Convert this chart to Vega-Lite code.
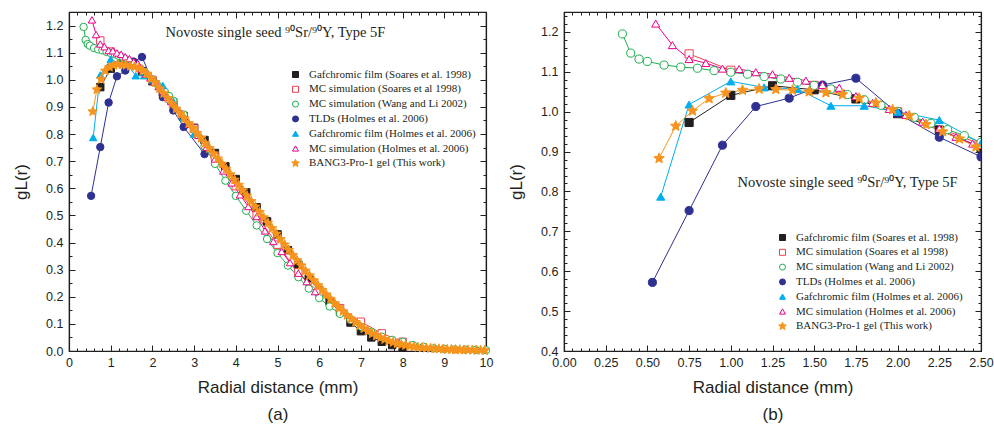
{
  "$schema": "https://vega.github.io/schema/vega-lite/v6.json",
  "padding": {"left": 12, "top": 10, "right": 5, "bottom": 2},
  "bounds": "flush",
  "spacing": 78,
  "config": {
    "font": "Liberation Sans",
    "view": {"stroke": "#231f20", "strokeWidth": 1.2},
    "axis": {"grid": false, "domainColor": "#231f20", "domainWidth": 1.2, "tickColor": "#231f20", "tickWidth": 1, "labelColor": "#231f20", "labelFont": "Liberation Sans", "labelFontSize": 12.5, "titleFont": "Liberation Sans", "titleFontSize": 17, "titleFontWeight": "normal", "titleColor": "#231f20"},
    "legend": {"labelFont": "Liberation Serif", "labelFontSize": 11, "labelColor": "#231f20", "labelLimit": 400, "padding": 0, "rowPadding": 2.8, "symbolStrokeWidth": 1, "symbolSize": 36}
  },
  "resolve": {
    "scale": {"color": "independent", "stroke": "independent", "fill": "independent", "shape": "independent"},
    "legend": {"stroke": "independent", "fill": "independent", "shape": "independent"}
  },
  "data": {"values": [
    {"s": "Gafchromic film (Soares et al. 1998)", "r": 0.75, "g": 0.973},
    {"s": "Gafchromic film (Soares et al. 1998)", "r": 1.0, "g": 1.041},
    {"s": "Gafchromic film (Soares et al. 1998)", "r": 1.25, "g": 1.065},
    {"s": "Gafchromic film (Soares et al. 1998)", "r": 1.5, "g": 1.055},
    {"s": "Gafchromic film (Soares et al. 1998)", "r": 1.75, "g": 1.032},
    {"s": "Gafchromic film (Soares et al. 1998)", "r": 2.0, "g": 0.995},
    {"s": "Gafchromic film (Soares et al. 1998)", "r": 2.25, "g": 0.954},
    {"s": "Gafchromic film (Soares et al. 1998)", "r": 2.5, "g": 0.91},
    {"s": "Gafchromic film (Soares et al. 1998)", "r": 2.75, "g": 0.866},
    {"s": "Gafchromic film (Soares et al. 1998)", "r": 3.0, "g": 0.823},
    {"s": "Gafchromic film (Soares et al. 1998)", "r": 3.25, "g": 0.778},
    {"s": "Gafchromic film (Soares et al. 1998)", "r": 3.5, "g": 0.73},
    {"s": "Gafchromic film (Soares et al. 1998)", "r": 3.75, "g": 0.681},
    {"s": "Gafchromic film (Soares et al. 1998)", "r": 4.0, "g": 0.634},
    {"s": "Gafchromic film (Soares et al. 1998)", "r": 4.25, "g": 0.585},
    {"s": "Gafchromic film (Soares et al. 1998)", "r": 4.5, "g": 0.53},
    {"s": "Gafchromic film (Soares et al. 1998)", "r": 4.75, "g": 0.478},
    {"s": "Gafchromic film (Soares et al. 1998)", "r": 5.0, "g": 0.43},
    {"s": "Gafchromic film (Soares et al. 1998)", "r": 5.25, "g": 0.372},
    {"s": "Gafchromic film (Soares et al. 1998)", "r": 5.5, "g": 0.318},
    {"s": "Gafchromic film (Soares et al. 1998)", "r": 5.75, "g": 0.268},
    {"s": "Gafchromic film (Soares et al. 1998)", "r": 6.0, "g": 0.224},
    {"s": "Gafchromic film (Soares et al. 1998)", "r": 6.25, "g": 0.182},
    {"s": "Gafchromic film (Soares et al. 1998)", "r": 6.5, "g": 0.145},
    {"s": "Gafchromic film (Soares et al. 1998)", "r": 6.75, "g": 0.105},
    {"s": "Gafchromic film (Soares et al. 1998)", "r": 7.0, "g": 0.073},
    {"s": "Gafchromic film (Soares et al. 1998)", "r": 7.25, "g": 0.05},
    {"s": "Gafchromic film (Soares et al. 1998)", "r": 7.5, "g": 0.034},
    {"s": "Gafchromic film (Soares et al. 1998)", "r": 7.75, "g": 0.022},
    {"s": "Gafchromic film (Soares et al. 1998)", "r": 8.0, "g": 0.013},
    {"s": "MC simulation (Soares et al 1998)", "r": 0.75, "g": 1.145},
    {"s": "MC simulation (Soares et al 1998)", "r": 1.0, "g": 1.104},
    {"s": "MC simulation (Soares et al 1998)", "r": 1.5, "g": 1.066},
    {"s": "MC simulation (Soares et al 1998)", "r": 2.0, "g": 1.0},
    {"s": "MC simulation (Soares et al 1998)", "r": 2.5, "g": 0.918},
    {"s": "MC simulation (Soares et al 1998)", "r": 3.0, "g": 0.82},
    {"s": "MC simulation (Soares et al 1998)", "r": 3.5, "g": 0.715},
    {"s": "MC simulation (Soares et al 1998)", "r": 4.0, "g": 0.608},
    {"s": "MC simulation (Soares et al 1998)", "r": 4.5, "g": 0.5},
    {"s": "MC simulation (Soares et al 1998)", "r": 5.0, "g": 0.392},
    {"s": "MC simulation (Soares et al 1998)", "r": 5.5, "g": 0.29},
    {"s": "MC simulation (Soares et al 1998)", "r": 6.0, "g": 0.215},
    {"s": "MC simulation (Soares et al 1998)", "r": 6.5, "g": 0.158},
    {"s": "MC simulation (Soares et al 1998)", "r": 7.0, "g": 0.108},
    {"s": "MC simulation (Soares et al 1998)", "r": 7.5, "g": 0.065},
    {"s": "MC simulation (Soares et al 1998)", "r": 8.0, "g": 0.034},
    {"s": "MC simulation (Wang and Li 2002)", "r": 0.35, "g": 1.195},
    {"s": "MC simulation (Wang and Li 2002)", "r": 0.4, "g": 1.147},
    {"s": "MC simulation (Wang and Li 2002)", "r": 0.45, "g": 1.132},
    {"s": "MC simulation (Wang and Li 2002)", "r": 0.5, "g": 1.126},
    {"s": "MC simulation (Wang and Li 2002)", "r": 0.6, "g": 1.117},
    {"s": "MC simulation (Wang and Li 2002)", "r": 0.7, "g": 1.112},
    {"s": "MC simulation (Wang and Li 2002)", "r": 0.8, "g": 1.109},
    {"s": "MC simulation (Wang and Li 2002)", "r": 0.9, "g": 1.103},
    {"s": "MC simulation (Wang and Li 2002)", "r": 1.0, "g": 1.099},
    {"s": "MC simulation (Wang and Li 2002)", "r": 1.1, "g": 1.094},
    {"s": "MC simulation (Wang and Li 2002)", "r": 1.2, "g": 1.088},
    {"s": "MC simulation (Wang and Li 2002)", "r": 1.3, "g": 1.082},
    {"s": "MC simulation (Wang and Li 2002)", "r": 1.4, "g": 1.074},
    {"s": "MC simulation (Wang and Li 2002)", "r": 1.5, "g": 1.066},
    {"s": "MC simulation (Wang and Li 2002)", "r": 1.6, "g": 1.057},
    {"s": "MC simulation (Wang and Li 2002)", "r": 1.7, "g": 1.043},
    {"s": "MC simulation (Wang and Li 2002)", "r": 1.8, "g": 1.03},
    {"s": "MC simulation (Wang and Li 2002)", "r": 1.9, "g": 1.016},
    {"s": "MC simulation (Wang and Li 2002)", "r": 2.0, "g": 1.001},
    {"s": "MC simulation (Wang and Li 2002)", "r": 2.1, "g": 0.986},
    {"s": "MC simulation (Wang and Li 2002)", "r": 2.2, "g": 0.971},
    {"s": "MC simulation (Wang and Li 2002)", "r": 2.3, "g": 0.955},
    {"s": "MC simulation (Wang and Li 2002)", "r": 2.4, "g": 0.94},
    {"s": "MC simulation (Wang and Li 2002)", "r": 2.5, "g": 0.923},
    {"s": "MC simulation (Wang and Li 2002)", "r": 2.75, "g": 0.872},
    {"s": "MC simulation (Wang and Li 2002)", "r": 3.0, "g": 0.815},
    {"s": "MC simulation (Wang and Li 2002)", "r": 3.25, "g": 0.755},
    {"s": "MC simulation (Wang and Li 2002)", "r": 3.5, "g": 0.69},
    {"s": "MC simulation (Wang and Li 2002)", "r": 3.75, "g": 0.628},
    {"s": "MC simulation (Wang and Li 2002)", "r": 4.0, "g": 0.572},
    {"s": "MC simulation (Wang and Li 2002)", "r": 4.25, "g": 0.517},
    {"s": "MC simulation (Wang and Li 2002)", "r": 4.5, "g": 0.463},
    {"s": "MC simulation (Wang and Li 2002)", "r": 4.75, "g": 0.413},
    {"s": "MC simulation (Wang and Li 2002)", "r": 5.0, "g": 0.361},
    {"s": "MC simulation (Wang and Li 2002)", "r": 5.25, "g": 0.315},
    {"s": "MC simulation (Wang and Li 2002)", "r": 5.5, "g": 0.272},
    {"s": "MC simulation (Wang and Li 2002)", "r": 5.75, "g": 0.23},
    {"s": "MC simulation (Wang and Li 2002)", "r": 6.0, "g": 0.195},
    {"s": "MC simulation (Wang and Li 2002)", "r": 6.25, "g": 0.164},
    {"s": "MC simulation (Wang and Li 2002)", "r": 6.5, "g": 0.137},
    {"s": "MC simulation (Wang and Li 2002)", "r": 6.75, "g": 0.115},
    {"s": "MC simulation (Wang and Li 2002)", "r": 7.0, "g": 0.09},
    {"s": "MC simulation (Wang and Li 2002)", "r": 7.25, "g": 0.071},
    {"s": "MC simulation (Wang and Li 2002)", "r": 7.5, "g": 0.053},
    {"s": "MC simulation (Wang and Li 2002)", "r": 7.75, "g": 0.041},
    {"s": "MC simulation (Wang and Li 2002)", "r": 8.0, "g": 0.034},
    {"s": "MC simulation (Wang and Li 2002)", "r": 8.25, "g": 0.022},
    {"s": "MC simulation (Wang and Li 2002)", "r": 8.5, "g": 0.016},
    {"s": "MC simulation (Wang and Li 2002)", "r": 8.75, "g": 0.01},
    {"s": "MC simulation (Wang and Li 2002)", "r": 9.0, "g": 0.008},
    {"s": "MC simulation (Wang and Li 2002)", "r": 9.25, "g": 0.006},
    {"s": "MC simulation (Wang and Li 2002)", "r": 9.5, "g": 0.005},
    {"s": "MC simulation (Wang and Li 2002)", "r": 9.75, "g": 0.004},
    {"s": "MC simulation (Wang and Li 2002)", "r": 10.0, "g": 0.003},
    {"s": "TLDs (Holmes et al. 2006)", "r": 0.53, "g": 0.572},
    {"s": "TLDs (Holmes et al. 2006)", "r": 0.75, "g": 0.752},
    {"s": "TLDs (Holmes et al. 2006)", "r": 0.95, "g": 0.916},
    {"s": "TLDs (Holmes et al. 2006)", "r": 1.15, "g": 1.013},
    {"s": "TLDs (Holmes et al. 2006)", "r": 1.35, "g": 1.034},
    {"s": "TLDs (Holmes et al. 2006)", "r": 1.55, "g": 1.067},
    {"s": "TLDs (Holmes et al. 2006)", "r": 1.75, "g": 1.084},
    {"s": "TLDs (Holmes et al. 2006)", "r": 2.0, "g": 0.996},
    {"s": "TLDs (Holmes et al. 2006)", "r": 2.25, "g": 0.936},
    {"s": "TLDs (Holmes et al. 2006)", "r": 2.5, "g": 0.887},
    {"s": "TLDs (Holmes et al. 2006)", "r": 2.75, "g": 0.826},
    {"s": "TLDs (Holmes et al. 2006)", "r": 3.25, "g": 0.726},
    {"s": "Gafchromic film (Holmes et al. 2006)", "r": 0.58, "g": 0.787},
    {"s": "Gafchromic film (Holmes et al. 2006)", "r": 0.75, "g": 1.018},
    {"s": "Gafchromic film (Holmes et al. 2006)", "r": 1.0, "g": 1.076},
    {"s": "Gafchromic film (Holmes et al. 2006)", "r": 1.2, "g": 1.061},
    {"s": "Gafchromic film (Holmes et al. 2006)", "r": 1.4, "g": 1.057},
    {"s": "Gafchromic film (Holmes et al. 2006)", "r": 1.6, "g": 1.015},
    {"s": "Gafchromic film (Holmes et al. 2006)", "r": 1.8, "g": 1.015},
    {"s": "Gafchromic film (Holmes et al. 2006)", "r": 2.0, "g": 1.0},
    {"s": "Gafchromic film (Holmes et al. 2006)", "r": 2.25, "g": 0.979},
    {"s": "Gafchromic film (Holmes et al. 2006)", "r": 2.5, "g": 0.921},
    {"s": "Gafchromic film (Holmes et al. 2006)", "r": 2.75, "g": 0.86},
    {"s": "Gafchromic film (Holmes et al. 2006)", "r": 3.0, "g": 0.8},
    {"s": "MC simulation (Holmes et al. 2006)", "r": 0.55, "g": 1.221},
    {"s": "MC simulation (Holmes et al. 2006)", "r": 0.65, "g": 1.167},
    {"s": "MC simulation (Holmes et al. 2006)", "r": 0.75, "g": 1.132},
    {"s": "MC simulation (Holmes et al. 2006)", "r": 0.85, "g": 1.122},
    {"s": "MC simulation (Holmes et al. 2006)", "r": 0.95, "g": 1.108},
    {"s": "MC simulation (Holmes et al. 2006)", "r": 1.05, "g": 1.107},
    {"s": "MC simulation (Holmes et al. 2006)", "r": 1.15, "g": 1.099},
    {"s": "MC simulation (Holmes et al. 2006)", "r": 1.25, "g": 1.094},
    {"s": "MC simulation (Holmes et al. 2006)", "r": 1.35, "g": 1.085},
    {"s": "MC simulation (Holmes et al. 2006)", "r": 1.45, "g": 1.078},
    {"s": "MC simulation (Holmes et al. 2006)", "r": 1.55, "g": 1.067},
    {"s": "MC simulation (Holmes et al. 2006)", "r": 1.65, "g": 1.06},
    {"s": "MC simulation (Holmes et al. 2006)", "r": 1.75, "g": 1.039},
    {"s": "MC simulation (Holmes et al. 2006)", "r": 1.85, "g": 1.022},
    {"s": "MC simulation (Holmes et al. 2006)", "r": 1.95, "g": 1.007},
    {"s": "MC simulation (Holmes et al. 2006)", "r": 2.05, "g": 0.992},
    {"s": "MC simulation (Holmes et al. 2006)", "r": 2.15, "g": 0.975},
    {"s": "MC simulation (Holmes et al. 2006)", "r": 2.25, "g": 0.958},
    {"s": "MC simulation (Holmes et al. 2006)", "r": 2.35, "g": 0.937},
    {"s": "MC simulation (Holmes et al. 2006)", "r": 2.45, "g": 0.92},
    {"s": "MC simulation (Holmes et al. 2006)", "r": 2.7, "g": 0.876},
    {"s": "MC simulation (Holmes et al. 2006)", "r": 2.9, "g": 0.836},
    {"s": "MC simulation (Holmes et al. 2006)", "r": 3.1, "g": 0.795},
    {"s": "MC simulation (Holmes et al. 2006)", "r": 3.3, "g": 0.752},
    {"s": "MC simulation (Holmes et al. 2006)", "r": 3.5, "g": 0.708},
    {"s": "MC simulation (Holmes et al. 2006)", "r": 3.7, "g": 0.664},
    {"s": "MC simulation (Holmes et al. 2006)", "r": 3.9, "g": 0.62},
    {"s": "MC simulation (Holmes et al. 2006)", "r": 4.1, "g": 0.576},
    {"s": "MC simulation (Holmes et al. 2006)", "r": 4.3, "g": 0.533},
    {"s": "MC simulation (Holmes et al. 2006)", "r": 4.5, "g": 0.496},
    {"s": "MC simulation (Holmes et al. 2006)", "r": 4.7, "g": 0.443},
    {"s": "MC simulation (Holmes et al. 2006)", "r": 4.9, "g": 0.404},
    {"s": "MC simulation (Holmes et al. 2006)", "r": 5.1, "g": 0.367},
    {"s": "MC simulation (Holmes et al. 2006)", "r": 5.3, "g": 0.326},
    {"s": "MC simulation (Holmes et al. 2006)", "r": 5.5, "g": 0.287},
    {"s": "MC simulation (Holmes et al. 2006)", "r": 5.7, "g": 0.256},
    {"s": "MC simulation (Holmes et al. 2006)", "r": 5.9, "g": 0.219},
    {"s": "BANG3-Pro-1 gel (This work)", "r": 0.57, "g": 0.883},
    {"s": "BANG3-Pro-1 gel (This work)", "r": 0.67, "g": 0.964},
    {"s": "BANG3-Pro-1 gel (This work)", "r": 0.77, "g": 1.002},
    {"s": "BANG3-Pro-1 gel (This work)", "r": 0.87, "g": 1.033},
    {"s": "BANG3-Pro-1 gel (This work)", "r": 0.97, "g": 1.047},
    {"s": "BANG3-Pro-1 gel (This work)", "r": 1.07, "g": 1.054},
    {"s": "BANG3-Pro-1 gel (This work)", "r": 1.17, "g": 1.057},
    {"s": "BANG3-Pro-1 gel (This work)", "r": 1.27, "g": 1.056},
    {"s": "BANG3-Pro-1 gel (This work)", "r": 1.37, "g": 1.054},
    {"s": "BANG3-Pro-1 gel (This work)", "r": 1.47, "g": 1.05},
    {"s": "BANG3-Pro-1 gel (This work)", "r": 1.57, "g": 1.048},
    {"s": "BANG3-Pro-1 gel (This work)", "r": 1.67, "g": 1.043},
    {"s": "BANG3-Pro-1 gel (This work)", "r": 1.77, "g": 1.034},
    {"s": "BANG3-Pro-1 gel (This work)", "r": 1.87, "g": 1.022},
    {"s": "BANG3-Pro-1 gel (This work)", "r": 1.97, "g": 1.005},
    {"s": "BANG3-Pro-1 gel (This work)", "r": 2.07, "g": 0.99},
    {"s": "BANG3-Pro-1 gel (This work)", "r": 2.17, "g": 0.968},
    {"s": "BANG3-Pro-1 gel (This work)", "r": 2.27, "g": 0.95},
    {"s": "BANG3-Pro-1 gel (This work)", "r": 2.37, "g": 0.932},
    {"s": "BANG3-Pro-1 gel (This work)", "r": 2.47, "g": 0.912},
    {"s": "BANG3-Pro-1 gel (This work)", "r": 2.57, "g": 0.893},
    {"s": "BANG3-Pro-1 gel (This work)", "r": 2.67, "g": 0.875},
    {"s": "BANG3-Pro-1 gel (This work)", "r": 2.77, "g": 0.857},
    {"s": "BANG3-Pro-1 gel (This work)", "r": 2.87, "g": 0.839},
    {"s": "BANG3-Pro-1 gel (This work)", "r": 2.97, "g": 0.821},
    {"s": "BANG3-Pro-1 gel (This work)", "r": 3.07, "g": 0.803},
    {"s": "BANG3-Pro-1 gel (This work)", "r": 3.17, "g": 0.785},
    {"s": "BANG3-Pro-1 gel (This work)", "r": 3.27, "g": 0.766},
    {"s": "BANG3-Pro-1 gel (This work)", "r": 3.37, "g": 0.747},
    {"s": "BANG3-Pro-1 gel (This work)", "r": 3.47, "g": 0.728},
    {"s": "BANG3-Pro-1 gel (This work)", "r": 3.57, "g": 0.709},
    {"s": "BANG3-Pro-1 gel (This work)", "r": 3.67, "g": 0.69},
    {"s": "BANG3-Pro-1 gel (This work)", "r": 3.77, "g": 0.671},
    {"s": "BANG3-Pro-1 gel (This work)", "r": 3.87, "g": 0.651},
    {"s": "BANG3-Pro-1 gel (This work)", "r": 3.97, "g": 0.631},
    {"s": "BANG3-Pro-1 gel (This work)", "r": 4.07, "g": 0.612},
    {"s": "BANG3-Pro-1 gel (This work)", "r": 4.17, "g": 0.592},
    {"s": "BANG3-Pro-1 gel (This work)", "r": 4.27, "g": 0.572},
    {"s": "BANG3-Pro-1 gel (This work)", "r": 4.37, "g": 0.552},
    {"s": "BANG3-Pro-1 gel (This work)", "r": 4.47, "g": 0.532},
    {"s": "BANG3-Pro-1 gel (This work)", "r": 4.57, "g": 0.512},
    {"s": "BANG3-Pro-1 gel (This work)", "r": 4.67, "g": 0.492},
    {"s": "BANG3-Pro-1 gel (This work)", "r": 4.77, "g": 0.472},
    {"s": "BANG3-Pro-1 gel (This work)", "r": 4.87, "g": 0.452},
    {"s": "BANG3-Pro-1 gel (This work)", "r": 4.97, "g": 0.432},
    {"s": "BANG3-Pro-1 gel (This work)", "r": 5.07, "g": 0.412},
    {"s": "BANG3-Pro-1 gel (This work)", "r": 5.17, "g": 0.392},
    {"s": "BANG3-Pro-1 gel (This work)", "r": 5.27, "g": 0.372},
    {"s": "BANG3-Pro-1 gel (This work)", "r": 5.37, "g": 0.353},
    {"s": "BANG3-Pro-1 gel (This work)", "r": 5.47, "g": 0.334},
    {"s": "BANG3-Pro-1 gel (This work)", "r": 5.57, "g": 0.315},
    {"s": "BANG3-Pro-1 gel (This work)", "r": 5.67, "g": 0.296},
    {"s": "BANG3-Pro-1 gel (This work)", "r": 5.77, "g": 0.278},
    {"s": "BANG3-Pro-1 gel (This work)", "r": 5.87, "g": 0.26},
    {"s": "BANG3-Pro-1 gel (This work)", "r": 5.97, "g": 0.242},
    {"s": "BANG3-Pro-1 gel (This work)", "r": 6.07, "g": 0.225},
    {"s": "BANG3-Pro-1 gel (This work)", "r": 6.17, "g": 0.208},
    {"s": "BANG3-Pro-1 gel (This work)", "r": 6.27, "g": 0.192},
    {"s": "BANG3-Pro-1 gel (This work)", "r": 6.37, "g": 0.176},
    {"s": "BANG3-Pro-1 gel (This work)", "r": 6.47, "g": 0.161},
    {"s": "BANG3-Pro-1 gel (This work)", "r": 6.57, "g": 0.146},
    {"s": "BANG3-Pro-1 gel (This work)", "r": 6.67, "g": 0.132},
    {"s": "BANG3-Pro-1 gel (This work)", "r": 6.77, "g": 0.119},
    {"s": "BANG3-Pro-1 gel (This work)", "r": 6.87, "g": 0.106},
    {"s": "BANG3-Pro-1 gel (This work)", "r": 6.97, "g": 0.094},
    {"s": "BANG3-Pro-1 gel (This work)", "r": 7.07, "g": 0.083},
    {"s": "BANG3-Pro-1 gel (This work)", "r": 7.17, "g": 0.073},
    {"s": "BANG3-Pro-1 gel (This work)", "r": 7.27, "g": 0.064},
    {"s": "BANG3-Pro-1 gel (This work)", "r": 7.37, "g": 0.056},
    {"s": "BANG3-Pro-1 gel (This work)", "r": 7.47, "g": 0.049},
    {"s": "BANG3-Pro-1 gel (This work)", "r": 7.57, "g": 0.043},
    {"s": "BANG3-Pro-1 gel (This work)", "r": 7.67, "g": 0.037},
    {"s": "BANG3-Pro-1 gel (This work)", "r": 7.77, "g": 0.032},
    {"s": "BANG3-Pro-1 gel (This work)", "r": 7.87, "g": 0.028},
    {"s": "BANG3-Pro-1 gel (This work)", "r": 7.97, "g": 0.024},
    {"s": "BANG3-Pro-1 gel (This work)", "r": 8.07, "g": 0.021},
    {"s": "BANG3-Pro-1 gel (This work)", "r": 8.17, "g": 0.018},
    {"s": "BANG3-Pro-1 gel (This work)", "r": 8.27, "g": 0.016},
    {"s": "BANG3-Pro-1 gel (This work)", "r": 8.37, "g": 0.014},
    {"s": "BANG3-Pro-1 gel (This work)", "r": 8.47, "g": 0.012},
    {"s": "BANG3-Pro-1 gel (This work)", "r": 8.57, "g": 0.011},
    {"s": "BANG3-Pro-1 gel (This work)", "r": 8.67, "g": 0.01},
    {"s": "BANG3-Pro-1 gel (This work)", "r": 8.77, "g": 0.009},
    {"s": "BANG3-Pro-1 gel (This work)", "r": 8.87, "g": 0.008},
    {"s": "BANG3-Pro-1 gel (This work)", "r": 8.97, "g": 0.007},
    {"s": "BANG3-Pro-1 gel (This work)", "r": 9.07, "g": 0.006},
    {"s": "BANG3-Pro-1 gel (This work)", "r": 9.17, "g": 0.006},
    {"s": "BANG3-Pro-1 gel (This work)", "r": 9.27, "g": 0.005},
    {"s": "BANG3-Pro-1 gel (This work)", "r": 9.37, "g": 0.005},
    {"s": "BANG3-Pro-1 gel (This work)", "r": 9.47, "g": 0.004},
    {"s": "BANG3-Pro-1 gel (This work)", "r": 9.57, "g": 0.004},
    {"s": "BANG3-Pro-1 gel (This work)", "r": 9.67, "g": 0.003},
    {"s": "BANG3-Pro-1 gel (This work)", "r": 9.77, "g": 0.003},
    {"s": "BANG3-Pro-1 gel (This work)", "r": 9.87, "g": 0.003},
    {"s": "BANG3-Pro-1 gel (This work)", "r": 9.97, "g": 0.002}
  ]},
  "hconcat": [
    {
      "width": 417,
      "height": 339,
      "layer": [
        {
          "mark": {"type": "line", "strokeWidth": 1},
          "encoding": {
            "x": {"field": "r", "type": "quantitative", "scale": {"domain": [0, 10], "nice": false, "zero": false},
                  "axis": {"orient": "bottom", "values": [0, 1, 2, 3, 4, 5, 6, 7, 8, 9, 10], "format": "d", "tickSize": -6, "labelPadding": 11, "labelFlush": false, "title": ["Radial distance (mm)", "(a)"], "titlePadding": 11, "titleLineHeight": 27}},
            "y": {"field": "g", "type": "quantitative", "scale": {"domain": [0, 1.25], "nice": false, "zero": false},
                  "axis": {"orient": "left", "values": [0, 0.1, 0.2, 0.3, 0.4, 0.5, 0.6, 0.7, 0.8, 0.9, 1, 1.1, 1.2], "format": ".1f", "tickSize": -6, "labelPadding": 12, "title": "gL(r)", "titlePadding": 15}},
            "color": {"field": "s", "type": "nominal",
                      "sort": ["Gafchromic film (Soares et al. 1998)", "MC simulation (Soares et al 1998)", "MC simulation (Wang and Li 2002)", "TLDs (Holmes et al. 2006)", "Gafchromic film (Holmes et al. 2006)", "MC simulation (Holmes et al. 2006)", "BANG3-Pro-1 gel (This work)"],
                      "scale": {"range": ["#231f20", "#ef4056", "#1fae4f", "#2e3192", "#00aeef", "#ec008c", "#f7941d"]},
                      "legend": null}
          }
        },
        {
          "mark": {"type": "point", "opacity": 1, "strokeWidth": 1, "size": 55},
          "encoding": {
            "x": {"field": "r", "type": "quantitative", "axis": {"orient": "bottom", "tickCount": 50, "labels": false, "tickSize": -3, "title": null, "domain": false}},
            "y": {"field": "g", "type": "quantitative", "axis": {"orient": "left", "tickCount": 25, "labels": false, "tickSize": -3, "title": null, "domain": false}},
            "stroke": {"field": "s", "type": "nominal",
                       "scale": {"domain": ["Gafchromic film (Soares et al. 1998)", "MC simulation (Soares et al 1998)", "MC simulation (Wang and Li 2002)", "TLDs (Holmes et al. 2006)", "Gafchromic film (Holmes et al. 2006)", "MC simulation (Holmes et al. 2006)", "BANG3-Pro-1 gel (This work)"],
                                 "range": ["#231f20", "#ef4056", "#1fae4f", "#2e3192", "#00aeef", "#ec008c", "#f7941d"]},
                       "legend": {"orient": "none", "legendX": 221, "legendY": 57, "title": null, "labelOffset": 8,
                                  "encoding": {"symbols": {"update": {"shape": {"signal": "indexof(datum.value, 'Soares') >= 0 ? 'M-4.2,0H-1M1,0H4.2M-1,-1H1V1H-1Z' : (indexof(datum.value, 'Wang') >= 0 || indexof(datum.value, 'TLDs') >= 0) ? 'M-4.2,0H-1M1,0H4.2M-1,0A1,1 0 1,1 1,0A1,1 0 1,1 -1,0Z' : indexof(datum.value, 'BANG') >= 0 ? 'M-4.2,0H-1M1,0H4.2M0,-1.2L0.318,-0.437L1.141,-0.371L0.514,0.167L0.706,0.971L0,0.54L-0.706,0.971L-0.514,0.167L-1.141,-0.371L-0.318,-0.437Z' : 'M-4.2,0H-1M1,0H4.2M0,-1.05L1.1,0.85L-1.1,0.85Z'"}}}}}},
            "fill": {"field": "s", "type": "nominal",
                     "scale": {"domain": ["Gafchromic film (Soares et al. 1998)", "MC simulation (Soares et al 1998)", "MC simulation (Wang and Li 2002)", "TLDs (Holmes et al. 2006)", "Gafchromic film (Holmes et al. 2006)", "MC simulation (Holmes et al. 2006)", "BANG3-Pro-1 gel (This work)"],
                               "range": ["#231f20", "white", "white", "#2e3192", "#00aeef", "white", "#f7941d"]},
                     "legend": {"orient": "none", "legendX": 221, "legendY": 57, "title": null, "labelOffset": 8}},
            "shape": {"field": "s", "type": "nominal",
                      "scale": {"domain": ["Gafchromic film (Soares et al. 1998)", "MC simulation (Soares et al 1998)", "MC simulation (Wang and Li 2002)", "TLDs (Holmes et al. 2006)", "Gafchromic film (Holmes et al. 2006)", "MC simulation (Holmes et al. 2006)", "BANG3-Pro-1 gel (This work)"],
                                "range": ["square", "square", "circle", "circle", "triangle-up", "triangle-up", "M0,-1.35L0.358,-0.491L1.284,-0.417L0.578,0.188L0.794,1.092L0,0.608L-0.794,1.092L-0.578,0.188L-1.284,-0.417L-0.358,-0.491Z"]},
                      "legend": {"orient": "none", "legendX": 221, "legendY": 57, "title": null, "labelOffset": 8}}
          }
        },
        {
          "mark": {"type": "point", "opacity": 0},
          "encoding": {
            "x": {"field": "r", "type": "quantitative", "axis": {"orient": "top", "values": [0, 1, 2, 3, 4, 5, 6, 7, 8, 9, 10], "labels": false, "tickSize": -6, "title": null}},
            "y": {"field": "g", "type": "quantitative", "axis": {"orient": "right", "values": [0, 0.1, 0.2, 0.3, 0.4, 0.5, 0.6, 0.7, 0.8, 0.9, 1, 1.1, 1.2], "labels": false, "tickSize": -6, "title": null}}
          }
        },
        {
          "mark": {"type": "point", "opacity": 0},
          "encoding": {
            "x": {"field": "r", "type": "quantitative", "axis": {"orient": "top", "tickCount": 50, "labels": false, "tickSize": -3, "title": null, "domain": false}},
            "y": {"field": "g", "type": "quantitative", "axis": {"orient": "right", "tickCount": 25, "labels": false, "tickSize": -3, "title": null, "domain": false}}
          }
        },
        {
          "data": {"values": [{"t": "Novoste single seed ⁹⁰Sr/⁹⁰Y, Type 5F"}]},
          "mark": {"type": "text", "font": "Liberation Serif", "fontSize": 14.5, "color": "#231f20"},
          "encoding": {
            "x": {"datum": 4.95, "type": "quantitative", "axis": null},
            "y": {"datum": 1.172, "type": "quantitative", "axis": null},
            "text": {"field": "t"}
          }
        }
      ],
      "resolve": {"axis": {"x": "independent", "y": "independent"}}
    },
    {
      "width": 417,
      "height": 339,
      "layer": [
        {
          "mark": {"type": "line", "strokeWidth": 1, "clip": true},
          "encoding": {
            "x": {"field": "r", "type": "quantitative", "scale": {"domain": [0, 2.5], "nice": false, "zero": false},
                  "axis": {"orient": "bottom", "values": [0, 0.25, 0.5, 0.75, 1, 1.25, 1.5, 1.75, 2, 2.25, 2.5], "format": ".2f", "tickSize": -6, "labelPadding": 11, "labelFlush": false, "title": ["Radial distance (mm)", "(b)"], "titlePadding": 11, "titleLineHeight": 27}},
            "y": {"field": "g", "type": "quantitative", "scale": {"domain": [0.4, 1.25], "nice": false, "zero": false},
                  "axis": {"orient": "left", "values": [0.4, 0.5, 0.6, 0.7, 0.8, 0.9, 1, 1.1, 1.2], "format": ".1f", "tickSize": -6, "labelPadding": 12, "title": "gL(r)", "titlePadding": 15}},
            "color": {"field": "s", "type": "nominal",
                      "sort": ["Gafchromic film (Soares et al. 1998)", "MC simulation (Soares et al 1998)", "MC simulation (Wang and Li 2002)", "TLDs (Holmes et al. 2006)", "Gafchromic film (Holmes et al. 2006)", "MC simulation (Holmes et al. 2006)", "BANG3-Pro-1 gel (This work)"],
                      "scale": {"range": ["#231f20", "#ef4056", "#1fae4f", "#2e3192", "#00aeef", "#ec008c", "#f7941d"]},
                      "legend": null}
          }
        },
        {
          "mark": {"type": "point", "opacity": 1, "strokeWidth": 1, "clip": true, "size": 66},
          "encoding": {
            "x": {"field": "r", "type": "quantitative", "axis": {"orient": "bottom", "tickCount": 50, "labels": false, "tickSize": -3, "title": null, "domain": false}},
            "y": {"field": "g", "type": "quantitative", "axis": {"orient": "left", "tickCount": 42, "labels": false, "tickSize": -3, "title": null, "domain": false}},
            "stroke": {"field": "s", "type": "nominal",
                       "scale": {"domain": ["Gafchromic film (Soares et al. 1998)", "MC simulation (Soares et al 1998)", "MC simulation (Wang and Li 2002)", "TLDs (Holmes et al. 2006)", "Gafchromic film (Holmes et al. 2006)", "MC simulation (Holmes et al. 2006)", "BANG3-Pro-1 gel (This work)"],
                                 "range": ["#231f20", "#ef4056", "#1fae4f", "#2e3192", "#00aeef", "#ec008c", "#f7941d"]},
                       "legend": {"orient": "none", "legendX": 213, "legendY": 220, "title": null, "labelOffset": 8,
                                  "encoding": {"symbols": {"update": {"shape": {"signal": "indexof(datum.value, 'Soares') >= 0 ? 'M-4.2,0H-1M1,0H4.2M-1,-1H1V1H-1Z' : (indexof(datum.value, 'Wang') >= 0 || indexof(datum.value, 'TLDs') >= 0) ? 'M-4.2,0H-1M1,0H4.2M-1,0A1,1 0 1,1 1,0A1,1 0 1,1 -1,0Z' : indexof(datum.value, 'BANG') >= 0 ? 'M-4.2,0H-1M1,0H4.2M0,-1.2L0.318,-0.437L1.141,-0.371L0.514,0.167L0.706,0.971L0,0.54L-0.706,0.971L-0.514,0.167L-1.141,-0.371L-0.318,-0.437Z' : 'M-4.2,0H-1M1,0H4.2M0,-1.05L1.1,0.85L-1.1,0.85Z'"}}}}}},
            "fill": {"field": "s", "type": "nominal",
                     "scale": {"domain": ["Gafchromic film (Soares et al. 1998)", "MC simulation (Soares et al 1998)", "MC simulation (Wang and Li 2002)", "TLDs (Holmes et al. 2006)", "Gafchromic film (Holmes et al. 2006)", "MC simulation (Holmes et al. 2006)", "BANG3-Pro-1 gel (This work)"],
                               "range": ["#231f20", "white", "white", "#2e3192", "#00aeef", "white", "#f7941d"]},
                     "legend": {"orient": "none", "legendX": 213, "legendY": 220, "title": null, "labelOffset": 8}},
            "shape": {"field": "s", "type": "nominal",
                      "scale": {"domain": ["Gafchromic film (Soares et al. 1998)", "MC simulation (Soares et al 1998)", "MC simulation (Wang and Li 2002)", "TLDs (Holmes et al. 2006)", "Gafchromic film (Holmes et al. 2006)", "MC simulation (Holmes et al. 2006)", "BANG3-Pro-1 gel (This work)"],
                                "range": ["square", "square", "circle", "circle", "triangle-up", "triangle-up", "M0,-1.35L0.358,-0.491L1.284,-0.417L0.578,0.188L0.794,1.092L0,0.608L-0.794,1.092L-0.578,0.188L-1.284,-0.417L-0.358,-0.491Z"]},
                      "legend": {"orient": "none", "legendX": 213, "legendY": 220, "title": null, "labelOffset": 8}}
          }
        },
        {
          "mark": {"type": "point", "opacity": 0, "clip": true},
          "encoding": {
            "x": {"field": "r", "type": "quantitative", "axis": {"orient": "top", "values": [0, 0.25, 0.5, 0.75, 1, 1.25, 1.5, 1.75, 2, 2.25, 2.5], "labels": false, "tickSize": -6, "title": null}},
            "y": {"field": "g", "type": "quantitative", "axis": {"orient": "right", "values": [0.4, 0.5, 0.6, 0.7, 0.8, 0.9, 1, 1.1, 1.2], "labels": false, "tickSize": -6, "title": null}}
          }
        },
        {
          "mark": {"type": "point", "opacity": 0, "clip": true},
          "encoding": {
            "x": {"field": "r", "type": "quantitative", "axis": {"orient": "top", "tickCount": 50, "labels": false, "tickSize": -3, "title": null, "domain": false}},
            "y": {"field": "g", "type": "quantitative", "axis": {"orient": "right", "tickCount": 42, "labels": false, "tickSize": -3, "title": null, "domain": false}}
          }
        },
        {
          "data": {"values": [{"t": "Novoste single seed ⁹⁰Sr/⁹⁰Y, Type 5F"}]},
          "mark": {"type": "text", "font": "Liberation Serif", "fontSize": 14.5, "color": "#231f20"},
          "encoding": {
            "x": {"datum": 1.7, "type": "quantitative", "axis": null},
            "y": {"datum": 0.82, "type": "quantitative", "axis": null},
            "text": {"field": "t"}
          }
        }
      ],
      "resolve": {"axis": {"x": "independent", "y": "independent"}}
    }
  ]
}
